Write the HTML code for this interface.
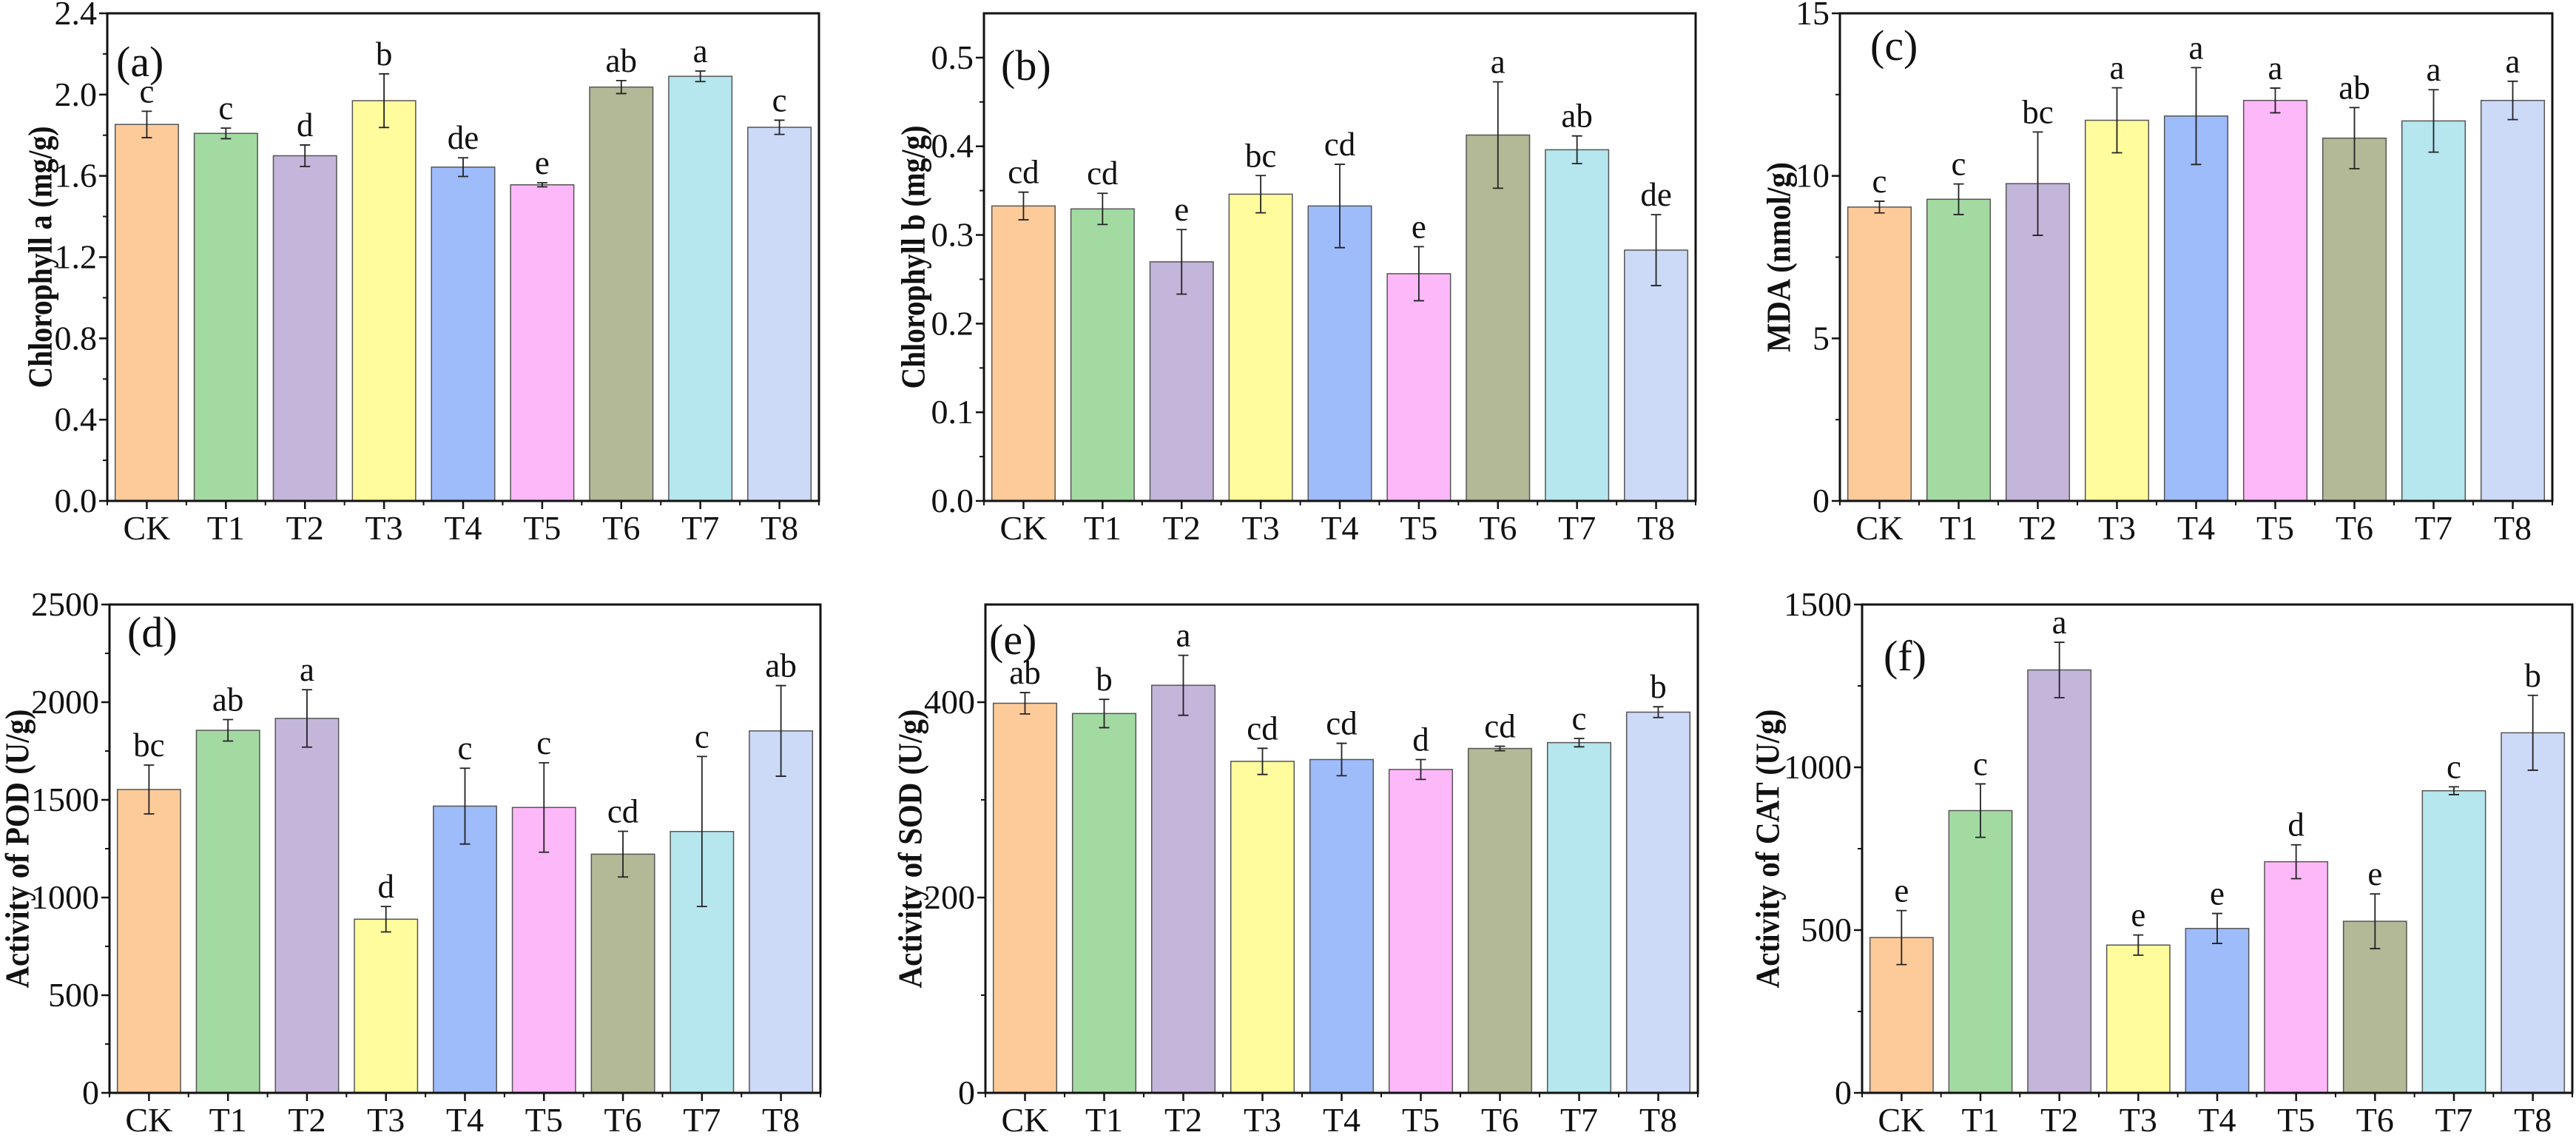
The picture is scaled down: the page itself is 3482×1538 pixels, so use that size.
<!DOCTYPE html>
<html><head><meta charset="utf-8">
<style>
html,body{margin:0;padding:0;background:#fff;}
svg{display:block;font-family:"Liberation Serif","Times New Roman",serif;}
</style></head>
<body>
<svg id="fig" width="3482" height="1538" viewBox="0 0 3482 1538" xmlns="http://www.w3.org/2000/svg"></svg>
<script>
const categories = ["CK","T1","T2","T3","T4","T5","T6","T7","T8"];
const colors = ["#FDCB9A","#A3DAA2","#C4B5DA","#FEFC9C","#9EBBFA","#FDB8F9","#B3B896","#B6E6EE","#CCD9F7"];

const chlaValues = [1.853,1.809,1.699,1.970,1.643,1.556,2.037,2.090,1.839];
const chlaErrors = [0.065,0.026,0.053,0.132,0.046,0.010,0.032,0.026,0.035];
const chlaLetters = ["c","c","d","b","de","e","ab","a","c"];
const chlaTicks = ["0.0","0.4","0.8","1.2","1.6","2.0","2.4"];

const chlbValues = [0.3327,0.3294,0.2697,0.3460,0.3327,0.2563,0.4127,0.3961,0.2829];
const chlbErrors = [0.0156,0.0176,0.0364,0.021,0.047,0.0305,0.060,0.0156,0.040];
const chlbLetters = ["cd","cd","e","bc","cd","e","a","ab","de"];
const chlbTicks = ["0.0","0.1","0.2","0.3","0.4","0.5"];

const mdaValues = [9.04,9.28,9.76,11.71,11.84,12.32,11.16,11.69,12.32];
const mdaErrors = [0.18,0.47,1.59,1.0,1.49,0.38,0.94,0.96,0.59];
const mdaLetters = ["c","c","bc","a","a","a","ab","a","a"];
const mdaTicks = ["0","5","10","15"];

const podValues = [1553,1856,1917,889,1468,1461,1222,1338,1853];
const podErrors = [125,55,147,65,194,229,117,384,232];
const podLetters = ["bc","ab","a","d","c","c","cd","c","ab"];
const podTicks = ["0","500","1000","1500","2000","2500"];

const sodValues = [398.9,388.4,417.3,339.4,341.3,331.1,352.6,358.6,389.8];
const sodErrors = [10.9,14.5,30.7,13.4,16.6,10.2,2.3,4.3,5.5];
const sodLetters = ["ab","b","a","cd","cd","d","cd","c","b"];
const sodTicks = ["0","200","400"];

const catValues = [477,867,1299,454,505,710,527,928,1106];
const catErrors = [83,82,85,31,46,52,84,12,115];
const catLetters = ["e","c","a","e","e","d","e","c","b"];
const catTicks = ["0","500","1000","1500"];

const NS = "http://www.w3.org/2000/svg";
const svg = document.getElementById("fig");
function mk(tag, attrs, parent){
  const e = document.createElementNS(NS, tag);
  for (const k in attrs) e.setAttribute(k, attrs[k]);
  (parent||svg).appendChild(e);
  return e;
}

const panels = [
 {id:"a",L:145,R:1107,T:18,B:677,max:2.4,minor:0.2,vals:chlaValues,errs:chlaErrors,lets:chlaLetters,ticks:chlaTicks,title:"Chlorophyll a (mg/g)",tx:54,tlen:354,lx:157,ly:103},
 {id:"b",L:1330,R:2292,T:18,B:677,max:0.55,minor:0.05,vals:chlbValues,errs:chlbErrors,lets:chlbLetters,ticks:chlbTicks,title:"Chlorophyll b (mg/g)",tx:1234,tlen:356,lx:1353,ly:108},
 {id:"c",L:2487,R:3450,T:18,B:677,max:15,minor:2.5,vals:mdaValues,errs:mdaErrors,lets:mdaLetters,ticks:mdaTicks,title:"MDA (nmol/g)",tx:2404,tlen:257,lx:2528,ly:81},
 {id:"d",L:148,R:1109,T:817,B:1477,max:2500,minor:250,vals:podValues,errs:podErrors,lets:podLetters,ticks:podTicks,title:"Activity of POD (U/g)",tx:23,tlen:377,lx:172,ly:874},
 {id:"e",L:1332,R:2295,T:817,B:1477,max:500,minor:100,vals:sodValues,errs:sodErrors,lets:sodLetters,ticks:sodTicks,title:"Activity of SOD (U/g)",tx:1230,tlen:377,lx:1337,ly:884},
 {id:"f",L:2517,R:3477,T:817,B:1477,max:1500,minor:250,vals:catValues,errs:catErrors,lets:catLetters,ticks:catTicks,title:"Activity of CAT (U/g)",tx:2389,tlen:377,lx:2546,ly:906}
];

panels.forEach(p=>{
  const g = mk("g",{});
  
  
  const W = p.R - p.L, n = categories.length, slot = W/n;
  const y = v => p.B - v/p.max*(p.B-p.T);
  const x = i => p.L + (i+0.5)*slot;
  const bw = slot*0.8;

  p.vals.forEach((v,i)=>{
    const r = mk("rect",{x:x(i)-bw/2,y:y(v),width:bw,height:p.B-y(v),fill:colors[i],stroke:"#555",["stroke-width"]:1.5},g);
    
    
    const top = y(v+p.errs[i]), bot = y(v-p.errs[i]);
    const eb = mk("path",{d:`M${x(i)},${top}V${bot}M${x(i)-7},${top}H${x(i)+7}M${x(i)-7},${bot}H${x(i)+7}`,stroke:"#222",["stroke-width"]:1.8,fill:"none"},g);
    
    
    const t = mk("text",{x:x(i),y:top-12,["font-size"]:45,["text-anchor"]:"middle",fill:"#111"},g);
    t.textContent = p.lets[i];
    
    
  });

  const fr = mk("rect",{x:p.L,y:p.T,width:W,height:p.B-p.T,fill:"none",stroke:"#111",["stroke-width"]:3},g);
  
  

  p.ticks.forEach(lbl=>{
    const v = Number(lbl), yy = y(v);
    mk("line",{x1:p.L-11,x2:p.L,y1:yy,y2:yy,stroke:"#111",["stroke-width"]:2.5},g);
    const t = mk("text",{x:p.L-14,y:yy+15,["font-size"]:46,["text-anchor"]:"end",fill:"#111"},g);
    t.textContent = lbl;
    
    
  });
  for (let v=p.minor; v<p.max-1e-9; v+=p.minor){
    const yy=y(v);
    mk("line",{x1:p.L-6,x2:p.L,y1:yy,y2:yy,stroke:"#111",["stroke-width"]:2},g);
  }
  categories.forEach((c,i)=>{
    mk("line",{x1:x(i),x2:x(i),y1:p.B,y2:p.B+11,stroke:"#111",["stroke-width"]:2.5},g);
    const t = mk("text",{x:x(i),y:p.B+52,["font-size"]:46,["text-anchor"]:"middle",fill:"#111"},g);
    t.textContent = c;
    
    
  });
  for (let i=0;i<=n;i++){
    const xx = p.L + i*slot;
    mk("line",{x1:xx,x2:xx,y1:p.B,y2:p.B+6,stroke:"#111",["stroke-width"]:2},g);
  }
  const cy = (p.T+p.B)/2;
  const yt = mk("text",{x:p.tx,y:cy,transform:`rotate(-90 ${p.tx} ${cy})`,["font-size"]:46,["font-weight"]:"bold",["text-anchor"]:"middle",["dominant-baseline"]:"central",textLength:p.tlen,lengthAdjust:"spacingAndGlyphs",fill:"#111"},g);
  yt.textContent = p.title;
  
  
  const pl = mk("text",{x:p.lx,y:p.ly,["font-size"]:58,fill:"#111"},g);
  pl.textContent = "("+p.id+")";
  
  
});
</script>
</body></html>
